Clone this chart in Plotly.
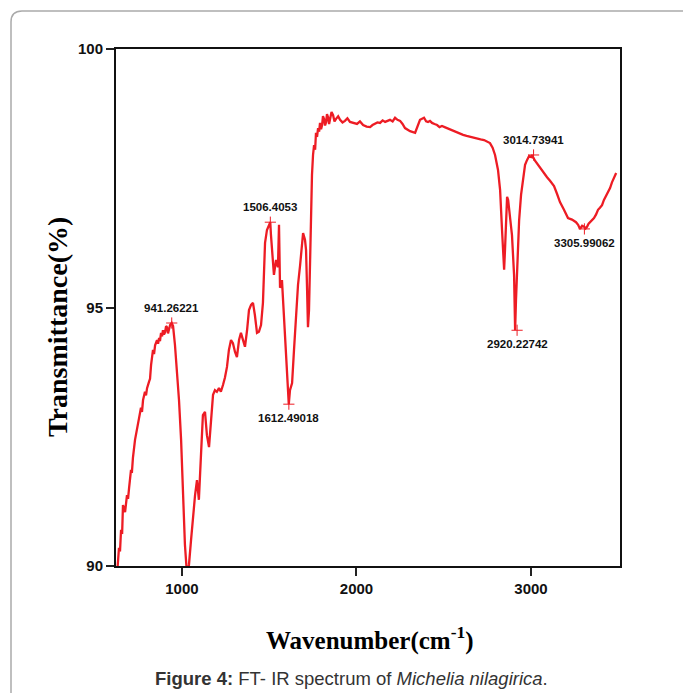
import plotly.graph_objects as go

# Traced FT-IR spectrum (wavenumber in cm^-1, transmittance in %)
wavenumber = [628, 639, 645, 651, 657, 662, 668, 674, 685, 691, 697, 708, 713, 719, 731, 742, 754,
              765, 771, 777, 788, 794, 800, 811, 817, 823, 834, 840, 846, 857, 863, 869, 874, 880,
              886, 891, 897, 903, 909, 914, 920, 926, 932, 941, 949, 960, 972, 983,
              995, 1006, 1017, 1029, 1040, 1052, 1063, 1075, 1086, 1097, 1109, 1120, 1132, 1143,
              1155, 1166, 1178, 1189, 1200, 1212, 1223, 1235, 1246, 1258, 1269, 1281, 1292, 1304,
              1315, 1327, 1338, 1350, 1361, 1373, 1384, 1396, 1407, 1418, 1430, 1441, 1453, 1464,
              1476, 1487, 1499, 1506, 1510, 1516, 1527, 1539, 1550, 1556, 1562, 1573, 1579, 1590,
              1602, 1612, 1619, 1631, 1642, 1654, 1665, 1677, 1688, 1694, 1705, 1711, 1717, 1722,
              1728, 1734, 1740, 1745, 1751, 1757, 1763, 1768, 1774, 1780, 1786, 1791, 1797, 1803,
              1808, 1814, 1820, 1826, 1831, 1837, 1843, 1849, 1857, 1866, 1874, 1883, 1895, 1906,
              1920, 1934, 1948, 1963, 1983, 2003, 2020, 2038, 2058, 2078, 2092, 2106, 2120, 2135,
              2150, 2164, 2178, 2192, 2207, 2221, 2235, 2250, 2264, 2278,
              2307, 2336, 2364, 2387, 2399, 2410, 2421, 2433, 2447, 2462, 2476, 2490, 2505, 2519,
              2533, 2548, 2562, 2576, 2594, 2611, 2631, 2651, 2671, 2691, 2711, 2731, 2748, 2765,
              2780, 2794, 2811, 2823, 2834, 2840, 2846, 2851, 2857, 2863, 2869, 2880,
              2891, 2903, 2909, 2914, 2920, 2926, 2932, 2943, 2954, 2966, 2977, 2989, 3000, 3006,
              3011, 3015, 3021, 3029, 3040, 3052, 3069, 3092, 3109, 3132, 3149, 3166, 3189, 3212,
              3235, 3258, 3270, 3281, 3293, 3306, 3313, 3321, 3330, 3338, 3350, 3361, 3373, 3384,
              3395, 3407, 3418, 3430, 3441, 3453, 3464, 3476, 3488, 3499, 3510]
transmittance = [89.83, 90.35, 90.28, 90.70, 90.62, 91.18, 91.10, 91.04, 91.37, 91.30, 91.51, 91.86,
                 91.80, 92.09, 92.44, 92.67, 92.86, 93.06, 92.98, 93.21, 93.37, 93.30, 93.44, 93.56,
                 93.62, 93.89, 94.18, 94.10, 94.27, 94.37, 94.30, 94.41, 94.35, 94.51, 94.44, 94.56,
                 94.48, 94.52, 94.64, 94.62, 94.50, 94.58, 94.66, 94.70, 94.64, 94.27, 93.79, 93.21,
                 92.44, 91.47, 90.41, 89.83,
                 90.02, 90.50, 90.99, 91.37, 91.66, 91.28, 92.15, 92.92, 92.98, 92.53, 92.30, 92.82,
                 93.31, 93.40, 93.37, 93.44, 93.37, 93.50, 93.64, 93.85, 94.18, 94.37, 94.31, 94.14,
                 94.04, 94.37, 94.51, 94.37, 94.24, 94.56, 94.95, 95.05, 95.09, 94.85, 94.51, 94.53,
                 94.66, 95.09, 96.25, 96.50, 96.60, 96.65, 96.40, 96.05, 95.63, 95.92, 95.78, 96.60,
                 95.38, 95.53, 95.14, 94.56, 93.79, 93.13, 93.40, 93.54, 94.18, 94.85, 95.44, 95.82,
                 96.34, 96.44, 96.31, 96.11, 95.34, 94.62, 94.95, 96.11, 97.08, 97.56, 97.95, 98.14,
                 98.05, 98.38, 98.30, 98.47, 98.40, 98.57, 98.45, 98.53, 98.70, 98.65, 98.52, 98.59,
                 98.74, 98.68, 98.55, 98.63, 98.78, 98.72, 98.60, 98.65, 98.70, 98.63, 98.58, 98.61,
                 98.66, 98.59, 98.57, 98.55, 98.60, 98.53, 98.50, 98.49, 98.53, 98.55, 98.58, 98.57,
                 98.62, 98.59, 98.61, 98.63, 98.60, 98.67, 98.63, 98.61,
                 98.55, 98.47, 98.41, 98.38, 98.63, 98.67, 98.60, 98.59, 98.61, 98.57, 98.55, 98.53,
                 98.49, 98.51, 98.49, 98.47, 98.45, 98.43, 98.41, 98.38, 98.36, 98.34, 98.32, 98.30,
                 98.28, 98.26, 98.25, 98.24, 98.21, 98.18, 98.09, 97.95, 97.66, 97.27, 96.50, 96.02,
                 95.73, 96.11, 96.79, 97.14, 97.08, 96.79, 96.40, 95.63, 94.56, 95.14, 95.82, 96.31,
                 96.69, 97.18, 97.47, 97.76, 97.85, 97.93, 97.91, 97.95, 97.90, 97.89, 97.85, 97.81,
                 97.76, 97.70, 97.62, 97.52, 97.45, 97.35, 97.20, 97.04, 96.89, 96.73, 96.70, 96.65,
                 96.60, 96.52, 96.58, 96.56, 96.53, 96.56, 96.62, 96.65, 96.70, 96.73, 96.80, 96.89,
                 96.93, 96.98, 97.08, 97.16, 97.22, 97.31, 97.42, 97.50, 97.60]

# Labelled peaks
peak_wn = [941.26221, 1506.4053, 1612.49018, 2920.22742, 3014.73941, 3305.99062]
peak_T = [94.70, 96.65, 93.13, 94.56, 97.95, 96.52]
peak_labels = ["941.26221", "1506.4053", "1612.49018", "2920.22742", "3014.73941", "3305.99062"]
peak_above = [True, True, False, False, True, False]

x_ticks = [1000, 2000, 3000]
y_ticks = [90, 95, 100]

W, H = 683, 693
L, R, T, B = 116, 620, 49, 566

RED = "#ed1c24"

fig = go.Figure()
fig.add_trace(go.Scatter(x=wavenumber, y=transmittance, mode="lines",
                         line=dict(color=RED, width=2.3), hoverinfo="skip"))
fig.add_trace(go.Scatter(x=peak_wn, y=peak_T, mode="markers",
                         marker=dict(symbol="cross-thin", size=8,
                                     line=dict(color=RED, width=1)),
                         hoverinfo="skip"))

for wn, tv, lab, above in zip(peak_wn, peak_T, peak_labels, peak_above):
    fig.add_annotation(x=wn, y=tv, text="<b>%s</b>" % lab, showarrow=False,
                       yshift=15 if above else -14,
                       font=dict(family="Liberation Sans, Arial", size=11.5, color="#111"))

def px(xp):
    return (xp - L) / (R - L)

def py(yp):
    return (B - yp) / (B - T)

# axis titles and caption
fig.add_annotation(xref="paper", yref="paper", x=px(370), y=py(638),
                   text="<b>Wavenumber(cm<sup>-1</sup>)</b>", showarrow=False,
                   xanchor="center", yanchor="middle",
                   font=dict(family="Liberation Serif, Times New Roman", size=25, color="#000"))
fig.add_annotation(xref="paper", yref="paper", x=px(57), y=py(327),
                   text="<b>Transmittance(%)</b>", showarrow=False, textangle=-90,
                   xanchor="center", yanchor="middle",
                   font=dict(family="Liberation Serif, Times New Roman", size=28, color="#000"))
fig.add_annotation(xref="paper", yref="paper", x=px(351), y=py(679),
                   text="<b>Figure 4:</b> FT- IR spectrum of <i>Michelia nilagirica</i>.",
                   showarrow=False, xanchor="center", yanchor="middle",
                   font=dict(family="Liberation Sans, Arial", size=18.5, color="#333"))

# outer rounded frame
x0, y0, r = px(11), py(11), 11
path = "M %f,%f L %f,%f Q %f,%f %f,%f L %f,%f" % (
    x0, py(700), x0, py(11 + r), x0, y0, px(11 + r), y0, px(700), y0)
fig.add_shape(type="path", xref="paper", yref="paper", path=path,
              line=dict(color="#aaaaaa", width=1.5))

axis_font = dict(family="Liberation Sans, Arial", size=15, color="#111")
fig.update_xaxes(range=[622, 3510], tickvals=x_ticks,
                 ticktext=["<b>%d</b>" % v for v in x_ticks],
                 ticks="outside", ticklen=8, tickwidth=1.5, tickcolor="#222",
                 showline=True, linewidth=2, linecolor="#111", mirror=True,
                 showgrid=False, zeroline=False, tickfont=axis_font)
fig.update_yaxes(range=[90, 100], tickvals=y_ticks,
                 ticktext=["<b>%d</b>" % v for v in y_ticks],
                 ticks="outside", ticklen=8, tickwidth=1.5, tickcolor="#222",
                 showline=True, linewidth=2, linecolor="#111", mirror=True,
                 showgrid=False, zeroline=False, tickfont=axis_font)

fig.update_layout(width=W, height=H, showlegend=False,
                  margin=dict(l=L, r=W - R, t=T, b=H - B, pad=0),
                  paper_bgcolor="white", plot_bgcolor="white")

fig.write_html("out.html", config={"displayModeBar": False},
               post_script="document.body.style.margin='0px';document.body.style.overflow='hidden';")
